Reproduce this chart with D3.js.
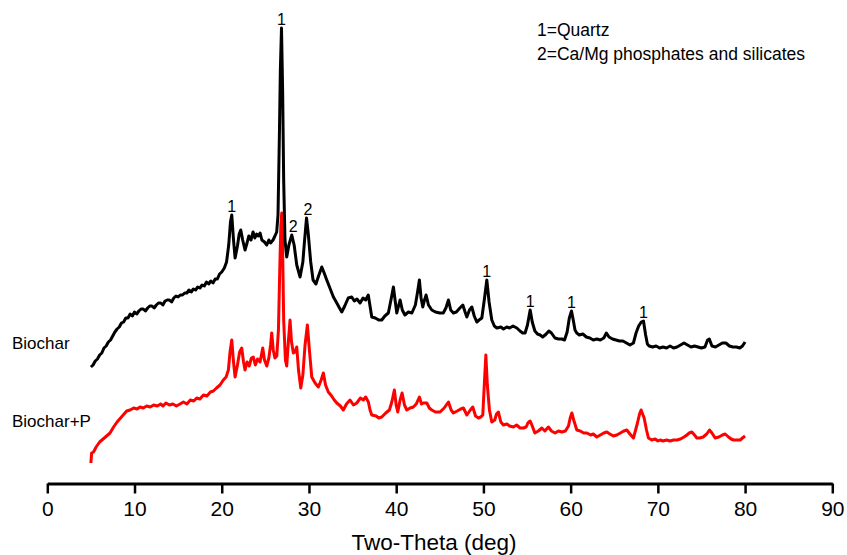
<!DOCTYPE html>
<html>
<head>
<meta charset="utf-8">
<script src="https://cdn.jsdelivr.net/npm/d3@7"></script>
<style>
  html, body { margin: 0; padding: 0; background: #fff; }
  svg { display: block; font-family: "Liberation Sans", Arial, sans-serif; }
</style>
</head>
<body>
<div id="chart"></div>
<script>
// XRD patterns, [two-theta (deg), intensity (a.u.)]
const biocharPattern = [
  [5.0,43],[5.25,45],[5.5,49],[5.75,51],[6.0,55],[6.25,57],[6.5,62],[6.75,64],[7.0,68],[7.25,70],
  [7.5,74],[7.75,78],[8.0,81],[8.25,83],[8.5,87],[8.75,88],[9.0,92],[9.25,92],[9.5,96],[9.75,94],
  [10.0,98],[10.25,96],[10.5,99],[10.75,101],[11.0,101],[11.25,99],[11.5,102],[11.75,104],[12.0,104],[12.25,102],
  [12.5,105],[12.75,107],[13.0,107],[13.25,105],[13.5,109],[13.75,110],[14.0,110],[14.25,108],[14.5,112],[14.75,114],
  [15.0,113],[15.25,115],[15.5,115],[15.75,117],[16.0,117],[16.25,120],[16.5,118],[16.75,121],[17.0,120],[17.25,123],
  [17.5,122],[17.75,125],[18.0,124],[18.25,128],[18.5,126],[18.75,129],[19.0,127],[19.25,131],[19.5,131],[19.75,136],
  [20.0,138],[20.3,142],[20.55,148],[20.8,165],[21.0,188],[21.15,195],[21.35,170],[21.53,152],[21.8,164],[22.0,176],
  [22.18,180],[22.4,170],[22.67,160],[22.9,167],[23.1,174],[23.35,170],[23.59,178],[23.8,172],[24.0,176],[24.2,174],
  [24.4,177],[24.6,170],[24.9,168],[25.16,165],[25.4,170],[25.6,167],[25.88,170],[26.1,174],[26.3,178],[26.45,195],
  [26.6,270],[26.72,340],[26.85,382],[26.98,320],[27.1,230],[27.25,170],[27.45,153],[27.7,165],[28.03,175],[28.3,165],
  [28.6,145],[28.98,133],[29.3,148],[29.5,170],[29.72,192],[29.9,178],[30.2,148],[30.47,130],[30.8,126],[31.1,134],
  [31.47,143],[31.7,138],[32.04,130],[32.4,122],[32.8,113],[33.19,107],[33.5,102],[33.76,98],[34.1,104],[34.5,112],
  [34.9,113],[35.2,109],[35.5,111],[35.86,107],[36.2,112],[36.5,110],[36.8,115],[37.0,104],[37.2,93],[37.6,92],
  [38.0,90],[38.35,90],[38.7,94],[39.1,97],[39.4,110],[39.68,123],[39.9,108],[40.07,97],[40.3,105],[40.45,110],
  [40.7,100],[41.0,95],[41.4,98],[41.8,97],[42.2,105],[42.45,118],[42.66,130],[42.85,112],[43.05,103],[43.25,110],
  [43.43,115],[43.7,105],[44.08,100],[44.5,98],[45.0,97],[45.4,97],[45.7,102],[45.99,110],[46.25,100],[46.56,97],
  [46.9,98],[47.3,102],[47.64,105],[47.9,98],[48.1,93],[48.4,100],[48.67,103],[48.95,94],[49.24,88],[49.5,90],
  [49.82,92],[50.1,110],[50.39,130],[50.65,108],[50.96,90],[51.25,84],[51.54,82],[52.0,83],[52.3,81],[52.68,83],
  [53.0,82],[53.4,84],[53.83,82],[54.2,79],[54.5,77],[54.78,77],[55.05,85],[55.36,100],[55.6,88],[55.9,79],
  [56.2,76],[56.5,75],[56.8,73],[57.2,76],[57.5,79],[57.8,77],[58.2,72],[58.6,71],[59.0,71],[59.3,70],
  [59.6,78],[59.85,92],[60.1,99],[60.3,90],[60.5,80],[60.7,77],[61.0,75],[61.4,76],[61.8,73],[62.2,72],
  [62.6,70],[63.0,71],[63.4,70],[63.8,72],[64.1,77],[64.4,73],[64.8,71],[65.2,70],[65.6,69],[66.0,69],
  [66.4,67],[66.8,65],[67.2,67],[67.5,77],[67.8,84],[68.1,88],[68.35,89],[68.6,75],[68.8,66],[69.0,64],
  [69.4,63],[69.8,64],[70.2,62],[70.6,63],[71.0,62],[71.4,64],[71.8,62],[72.2,63],[72.6,65],[73.0,67],
  [73.4,65],[73.8,63],[74.2,64],[74.6,63],[75.0,62],[75.4,63],[75.7,70],[75.9,71],[76.2,64],[76.6,63],
  [77.0,65],[77.4,67],[77.8,67],[78.2,64],[78.6,63],[79.0,63],[79.4,62],[79.7,64],[80.0,68]
];

const biocharPPattern = [
  [5.0,37],[5.08,47],[5.3,48],[5.6,53],[6.0,58],[6.4,61],[6.8,64],[7.19,67],[7.6,73],[8.0,78],
  [8.4,82],[8.8,86],[9.1,89],[9.5,90],[9.9,92],[10.3,91],[10.63,93],[11.0,92],[11.4,94],[11.8,93],
  [12.2,95],[12.6,94],[13.0,96],[13.27,94],[13.6,97],[14.0,95],[14.4,96],[14.8,94],[15.22,96],[15.6,98],
  [16.0,96],[16.4,100],[16.8,99],[17.13,102],[17.5,101],[17.9,105],[18.3,104],[18.7,108],[19.04,109],[19.4,112],
  [19.8,115],[20.18,120],[20.5,123],[20.76,130],[20.95,148],[21.15,160],[21.35,138],[21.53,123],[21.8,135],[22.05,148],
  [22.29,152],[22.5,138],[22.67,130],[22.9,138],[23.15,134],[23.4,142],[23.62,143],[23.85,135],[24.1,141],[24.39,138],
  [24.55,145],[24.7,152],[24.9,140],[25.16,134],[25.4,142],[25.6,155],[25.73,167],[25.9,150],[26.1,142],[26.31,144],
  [26.5,170],[26.65,230],[26.78,275],[26.88,287],[26.98,250],[27.1,180],[27.3,140],[27.45,134],[27.65,160],[27.83,180],
  [28.0,158],[28.21,147],[28.4,148],[28.6,153],[28.8,130],[29.06,112],[29.3,125],[29.55,155],[29.82,175],[30.05,150],
  [30.32,123],[30.7,117],[31.08,113],[31.4,120],[31.65,127],[31.9,115],[32.22,108],[32.6,104],[32.9,100],[33.19,97],
  [33.6,94],[33.94,90],[34.3,96],[34.71,100],[35.1,95],[35.48,97],[35.9,102],[36.24,100],[36.5,103],[36.81,98],
  [37.0,90],[37.2,85],[37.7,84],[38.0,82],[38.35,83],[38.8,87],[39.22,90],[39.5,98],[39.79,110],[40.0,95],
  [40.18,88],[40.45,100],[40.68,107],[40.95,95],[41.22,90],[41.6,92],[41.97,93],[42.3,96],[42.66,103],[42.9,96],
  [43.12,97],[43.51,97],[43.8,92],[44.08,90],[44.5,88],[45.03,88],[45.5,92],[45.99,98],[46.3,90],[46.56,87],
  [47.0,89],[47.4,91],[47.71,92],[48.1,85],[48.5,90],[48.78,93],[49.1,84],[49.43,82],[49.7,83],[49.93,85],
  [50.1,115],[50.28,145],[50.45,115],[50.69,90],[50.96,78],[51.3,80],[51.5,86],[51.72,88],[52.0,78],[52.29,75],
  [52.7,76],[53.0,74],[53.44,73],[53.8,75],[54.2,72],[54.59,72],[54.9,73],[55.1,77],[55.36,79],[55.6,74],
  [55.9,67],[56.3,69],[56.7,72],[57.05,69],[57.45,73],[57.8,69],[58.22,67],[58.6,69],[58.99,68],[59.4,69],
  [59.75,74],[59.95,82],[60.14,87],[60.35,80],[60.71,70],[61.1,69],[61.5,67],[61.86,67],[62.3,65],[62.6,66],
  [63.0,63],[63.4,65],[63.8,67],[64.15,68],[64.5,66],[64.9,64],[65.3,65],[65.7,67],[66.1,69],[66.44,70],
  [66.8,66],[67.2,62],[67.45,70],[67.66,77],[67.9,86],[68.08,90],[68.25,86],[68.43,82],[68.7,70],[68.92,62],
  [69.3,60],[69.7,61],[70.0,59],[70.26,60],[70.6,59],[71.0,60],[71.4,59],[71.8,60],[72.18,60],[72.6,61],
  [73.0,63],[73.33,65],[73.6,67],[73.9,68],[74.2,65],[74.47,62],[74.8,62],[75.2,63],[75.6,66],[75.92,70],
  [76.2,67],[76.57,62],[77.0,63],[77.4,65],[77.72,66],[78.1,63],[78.4,61],[78.67,60],[79.0,60],[79.44,60],
  [79.7,62],[80.0,64]
];

// vertical stacking of the Biochar pattern above Biochar+P
const biocharOffset = 90;

// peak assignments (two-theta of the marked reflections)
const quartzPeaks = [21.15, 26.85, 50.39, 55.36, 60.1, 68.35];
const phosphatePeaks = [28.03, 29.72];

const xTicks = [0, 10, 20, 30, 40, 50, 60, 70, 80, 90];
const legendLines = ["1=Quartz", "2=Ca/Mg phosphates and silicates"];

const width = 847, height = 555;

const svg = d3.select("#chart").append("svg")
  .attr("width", width)
  .attr("height", height)
  .attr("viewBox", `0 0 ${width} ${height}`);

const x = d3.scaleLinear().domain([0, 90]).range([47.3, 832.3]);
const y = d3.scaleLinear().domain([0, 500]).range([500, 0]);

const line = d3.line()
  .x(d => x(d[0]))
  .y(d => y(d[1]));

// curves
svg.append("path")
  .datum(biocharPPattern)
  .attr("d", line)
  .attr("fill", "none")
  .attr("stroke", "#ff0000")
  .attr("stroke-width", 3)
  .attr("stroke-linejoin", "round");

const biocharShifted = biocharPattern.map(d => [d[0], d[1] + biocharOffset]);
svg.append("path")
  .datum(biocharShifted)
  .attr("d", line)
  .attr("fill", "none")
  .attr("stroke", "#000")
  .attr("stroke-width", 3)
  .attr("stroke-linejoin", "round");

// peak labels
const peakTop = deg => d3.max(biocharShifted.filter(d => Math.abs(d[0] - deg) < 0.2), d => d[1]);
const peakLabels = quartzPeaks.map(p => ({deg: p, text: "1"}))
  .concat(phosphatePeaks.map(p => ({deg: p, text: "2"})));

svg.append("g").selectAll("text")
  .data(peakLabels)
  .join("text")
  .attr("x", d => x(d.deg) + (d.text === "2" ? 1.5 : 0))
  .attr("y", d => y(peakTop(d.deg)) - 3)
  .attr("text-anchor", "middle")
  .attr("font-size", 16)
  .attr("fill", "#000")
  .text(d => d.text);

// sample names
svg.append("text").attr("x", 12).attr("y", 349)
  .attr("font-size", 17).text("Biochar");
svg.append("text").attr("x", 12).attr("y", 427)
  .attr("font-size", 17).text("Biochar+P");

// legend
svg.append("g").selectAll("text")
  .data(legendLines)
  .join("text")
  .attr("x", 537)
  .attr("y", (d, i) => 36 + i * 24)
  .attr("font-size", 17.5)
  .text(d => d);

// x axis
const axis = svg.append("g")
  .attr("transform", "translate(0,483.5)")
  .call(d3.axisBottom(x).tickValues(xTicks).tickSizeInner(10).tickSizeOuter(0).tickPadding(8));

axis.select(".domain").attr("stroke", "#000").attr("stroke-width", 3);
axis.selectAll(".tick line").attr("stroke", "#000").attr("stroke-width", 2.5);
axis.selectAll(".tick text")
  .attr("font-family", "'Liberation Sans Narrow', 'Liberation Sans', Arial, sans-serif")
  .attr("font-size", 21)
  .attr("fill", "#000");

svg.append("text")
  .attr("x", 434)
  .attr("y", 550)
  .attr("text-anchor", "middle")
  .attr("font-family", "'Liberation Sans Narrow', 'Liberation Sans', Arial, sans-serif")
  .attr("font-size", 22.5)
  .text("Two-Theta (deg)");
</script>
</body>
</html>
